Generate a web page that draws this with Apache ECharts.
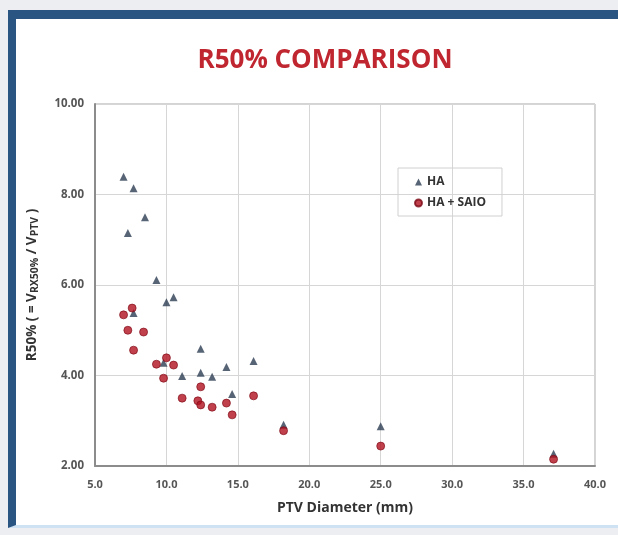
<!DOCTYPE html>
<html>
<head>
<meta charset="utf-8">
<script src="https://cdn.jsdelivr.net/npm/echarts@6/dist/echarts.min.js"></script>
<style>
  html, body { margin: 0; padding: 0; background: #eceef1; }
  .frame {
    position: absolute; left: 8px; top: 10px; width: 620px; height: 518px;
    background: #ffffff;
    border-top: 9px solid #2a5482;
    border-left: 8px solid #2a5482;
    border-bottom: 3px solid #cfe2f4;
    box-sizing: border-box;
  }
  #chart { position: absolute; left: 0; top: 0; width: 618px; height: 535px; }
</style>
</head>
<body>
<div class="frame"></div>
<div id="chart"></div>
<script>
// PTV diameter (mm) vs R50% for each technique
const haX = [7.0, 7.7, 8.5, 7.3, 9.3, 10.0, 10.5, 7.7, 12.4, 9.8, 11.1, 12.4, 13.2, 14.2, 16.1, 14.6, 18.2, 25.0, 37.1];
const haY = [8.39, 8.14, 7.50, 7.15, 6.11, 5.62, 5.73, 5.38, 4.59, 4.28, 3.99, 4.06, 3.97, 4.19, 4.32, 3.59, 2.91, 2.88, 2.27];
const saioX = [7.6, 7.0, 7.3, 8.4, 7.7, 9.3, 10.0, 10.5, 9.8, 12.4, 11.1, 12.2, 12.4, 13.2, 14.2, 14.6, 16.1, 18.2, 25.0, 37.1];
const saioY = [5.49, 5.34, 5.00, 4.96, 4.56, 4.25, 4.39, 4.23, 3.94, 3.75, 3.50, 3.44, 3.35, 3.30, 3.39, 3.13, 3.55, 2.78, 2.44, 2.15];

const pairs = (xs, ys) => xs.map((x, i) => [x, ys[i]]);

const chart = echarts.init(document.getElementById('chart'));
chart.setOption({
  animation: false,
  title: {
    text: 'R50% COMPARISON',
    left: 320,
    textAlign: 'center',
    top: 43,
    textStyle: { color: '#c0262f', fontSize: 26, fontWeight: 'bold', fontFamily: 'Open Sans' }
  },
  legend: {
    orient: 'vertical',
    left: 398,
    top: 168,
    padding: [8, 16, 7, 16],
    itemGap: 9,
    itemWidth: 7,
    itemHeight: 7,
    borderColor: '#d0d0d0',
    borderWidth: 1,
    textStyle: { fontSize: 12, fontWeight: 'bold', color: '#333', fontFamily: 'Open Sans' },
    data: [{ name: 'HA', icon: 'triangle' }, { name: 'HA + SAIO', icon: 'circle' }]
  },
  grid: { left: 95, top: 104, width: 500, height: 362, show: true, borderColor: '#a8a8a8', borderWidth: 1 },
  xAxis: {
    type: 'value', min: 5, max: 40, interval: 5,
    name: 'PTV Diameter (mm)', nameLocation: 'middle', nameGap: 35,
    nameTextStyle: { fontSize: 14, fontWeight: 'bold', color: '#333', fontFamily: 'Open Sans' },
    axisLine: { show: true, lineStyle: { color: '#8c8c8c', width: 2 } },
    axisTick: { show: false },
    axisLabel: { margin: 13, fontSize: 11, fontWeight: 'bold', color: '#555', fontFamily: 'Open Sans', formatter: v => v.toFixed(1) },
    splitLine: { lineStyle: { color: '#d6d6d6' } }
  },
  yAxis: {
    type: 'value', min: 2, max: 10, interval: 2,
    name: 'R50% ( = V{s|RX50%} / V{s|PTV} )', nameLocation: 'middle', nameGap: 54,
    nameTextStyle: {
      fontSize: 13.5, fontWeight: 'bold', color: '#333', fontFamily: 'Open Sans',
      rich: { s: { fontSize: 10.5, fontWeight: 'bold', color: '#333', verticalAlign: 'bottom', padding: [6, 0, 0, 0] } }
    },
    axisLine: { show: true, lineStyle: { color: '#8c8c8c', width: 2 } },
    axisTick: { show: false },
    axisLabel: { margin: 11, fontSize: 11.5, fontWeight: 'bold', color: '#555', fontFamily: 'Open Sans', formatter: v => v.toFixed(2) },
    splitLine: { lineStyle: { color: '#d6d6d6' } }
  },
  series: [
    {
      name: 'HA', type: 'scatter', symbol: 'triangle', symbolSize: 8,
      itemStyle: { color: '#2d3d52' },
      data: pairs(haX, haY)
    },
    {
      name: 'HA + SAIO', type: 'scatter', symbol: 'circle', symbolSize: 8,
      itemStyle: { color: '#b0101f', borderColor: '#7c0a16', borderWidth: 0.8 },
      data: pairs(saioX, saioY)
    }
  ]
});
</script>
</body>
</html>
